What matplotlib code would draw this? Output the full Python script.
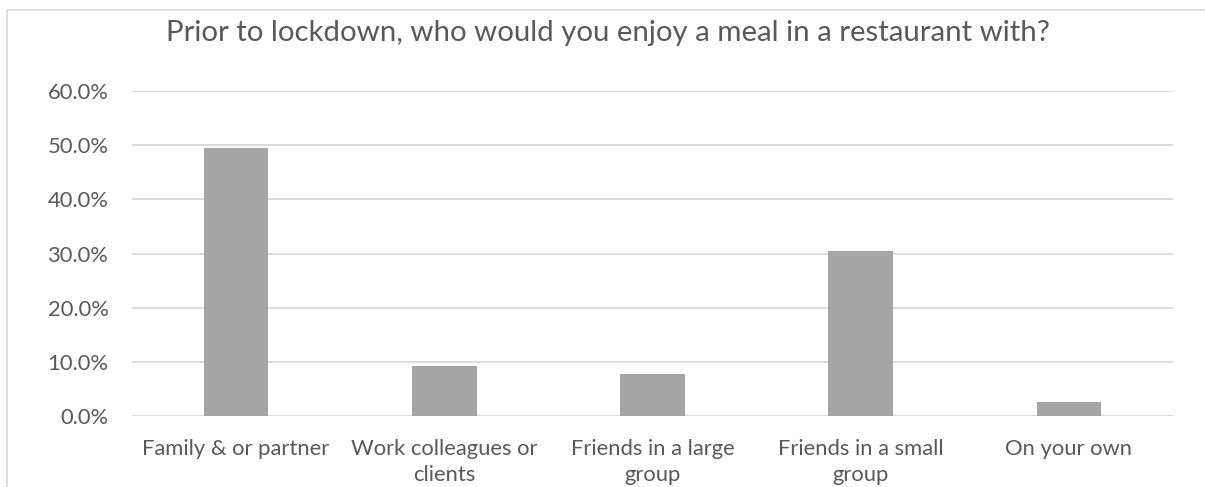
import matplotlib.pyplot as plt
from matplotlib.patches import Rectangle
from matplotlib.ticker import FuncFormatter

categories = ["Family & or partner", "Work colleagues or\nclients", "Friends in a large\ngroup",
              "Friends in a small\ngroup", "On your own"]
values = [49.5, 9.3, 7.7, 30.5, 2.6]
yticks = [0, 10, 20, 30, 40, 50, 60]
title = "Prior to lockdown, who would you enjoy a meal in a restaurant with?"

plt.rcParams["font.family"] = ["Lato", "DejaVu Sans"]
txt = "#595959"

fig = plt.figure(figsize=(12.05, 4.87), dpi=100)
fig.patches.append(Rectangle((7 / 1205, -0.1), 1.1, 1 - 10 / 487 + 0.1, transform=fig.transFigure,
                             fill=False, edgecolor="#d9d9d9", linewidth=1.2))

ax = fig.add_axes([132 / 1205, 1 - 416 / 487, 1041 / 1205, 325 / 487])
x = range(len(categories))
ax.bar(x, values, width=0.31, color="#a5a5a5", zorder=3)
ax.set_xlim(-0.5, len(categories) - 0.5)
ax.set_ylim(0, 60)
ax.set_yticks(yticks)
ax.yaxis.set_major_formatter(FuncFormatter(lambda v, p: f"{v:.1f}%"))
ax.set_xticks(list(x))
ax.set_xticklabels(categories, linespacing=1.4)
ax.tick_params(axis="both", length=0, colors=txt, labelsize=15.8)
ax.tick_params(axis="x", pad=16.5)
ax.tick_params(axis="y", pad=17)
ax.grid(axis="y", color="#d9d9d9", linewidth=1.3, zorder=0)
for s in ax.spines.values():
    s.set_visible(False)

fig.text(608 / 1205, 1 - 33 / 487, title, ha="center", va="center", fontsize=21.2, color=txt)

fig.savefig("out.png", dpi=100)
